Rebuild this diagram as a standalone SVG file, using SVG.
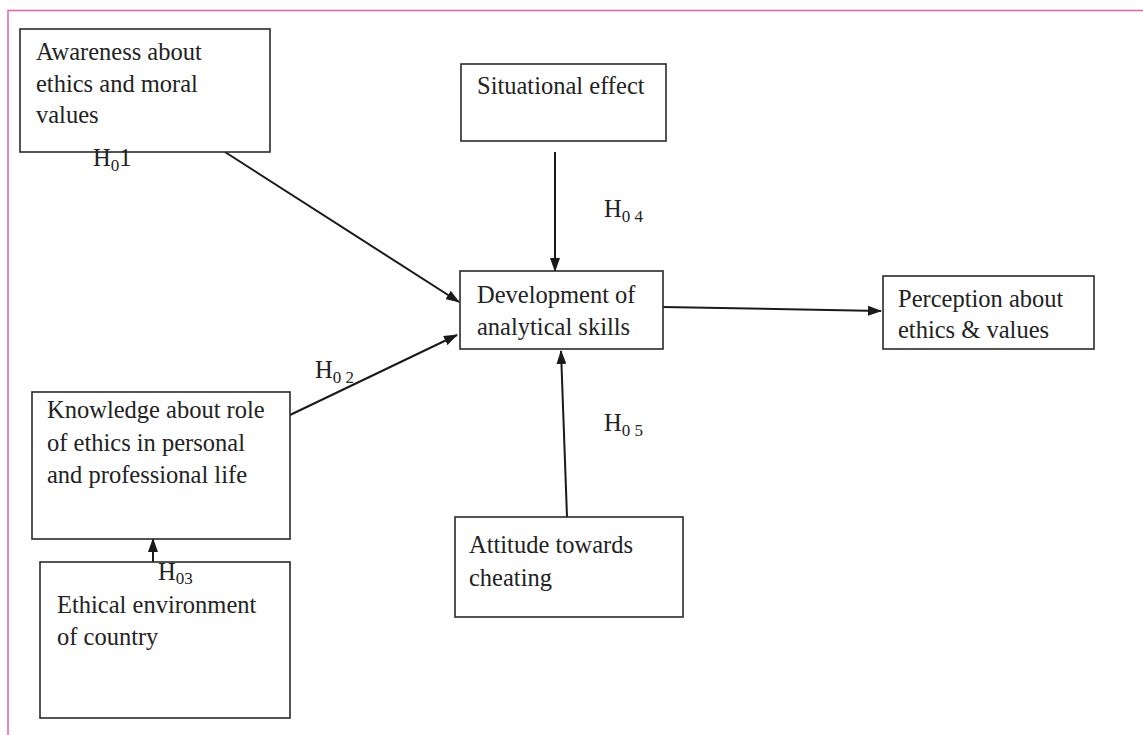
<svg xmlns="http://www.w3.org/2000/svg" width="1143" height="735" viewBox="0 0 1143 735">
<style>
.box{fill:#fff;stroke:#2a2a2a;stroke-width:1.6}
.t{font-family:"Liberation Serif","Times New Roman",serif;font-size:24.5px;fill:#222}
.s{font-size:17px}
.c{stroke:#1a1a1a;stroke-width:2;fill:none;marker-end:url(#ah)}
</style>
<defs>
<marker id="ah" viewBox="0 0 14 10" refX="13" refY="5" markerWidth="14" markerHeight="10" markerUnits="userSpaceOnUse" orient="auto">
<path d="M0,0 L14,5 L0,10 z" fill="#1a1a1a"/>
</marker>
</defs>
<rect width="1143" height="735" fill="#fff"/>
<path d="M8,735 V10.5 H1143" fill="none" stroke="#e060b0" stroke-width="1.5"/>
<g id="connectors">
<line class="c" x1="225" y1="152" x2="459" y2="302"/>
<line class="c" x1="290" y1="415" x2="457" y2="335"/>
<line class="c" x1="555" y1="152" x2="555" y2="271"/>
<line class="c" x1="663" y1="307" x2="881" y2="311"/>
<line class="c" x1="567" y1="517" x2="561" y2="351"/>
<line class="c" x1="153" y1="562" x2="153" y2="539"/>
</g>
<g id="awareness">
<rect class="box" x="20" y="29" width="250" height="123"/>
<text class="t" x="36" y="60">Awareness about</text>
<text class="t" x="36" y="92">ethics and moral</text>
<text class="t" x="36" y="123">values</text>
</g>
<g id="situational">
<rect class="box" x="461" y="64" width="205" height="77"/>
<text class="t" x="477" y="94">Situational effect</text>
</g>
<g id="development">
<rect class="box" x="460" y="271" width="203" height="78"/>
<text class="t" x="477" y="303">Development of</text>
<text class="t" x="477" y="335">analytical skills</text>
</g>
<g id="perception">
<rect class="box" x="883" y="276" width="211" height="73"/>
<text class="t" x="898" y="307">Perception about</text>
<text class="t" x="898" y="338">ethics &amp; values</text>
</g>
<g id="knowledge">
<rect class="box" x="32" y="392" width="258" height="147"/>
<text class="t" x="47" y="418">Knowledge about role</text>
<text class="t" x="47" y="451">of ethics in personal</text>
<text class="t" x="47" y="483">and professional life</text>
</g>
<g id="attitude">
<rect class="box" x="455" y="517" width="228" height="100"/>
<text class="t" x="469" y="553">Attitude towards</text>
<text class="t" x="469" y="586">cheating</text>
</g>
<g id="ethical">
<rect class="box" x="40" y="562" width="250" height="156"/>
<text class="t" x="57" y="613">Ethical environment</text>
<text class="t" x="57" y="645">of country</text>
</g>
<g id="labels">
<text class="t" x="93" y="166">H<tspan class="s" dy="5">0</tspan><tspan dy="-5">1</tspan></text>
<text class="t" x="604" y="217">H<tspan class="s" dy="5">0 4</tspan></text>
<text class="t" x="315" y="378">H<tspan class="s" dy="5">0 2</tspan></text>
<text class="t" x="604" y="431">H<tspan class="s" dy="5">0 5</tspan></text>
<text class="t" x="158" y="580">H<tspan class="s" dy="4">03</tspan></text>
</g>
</svg>
